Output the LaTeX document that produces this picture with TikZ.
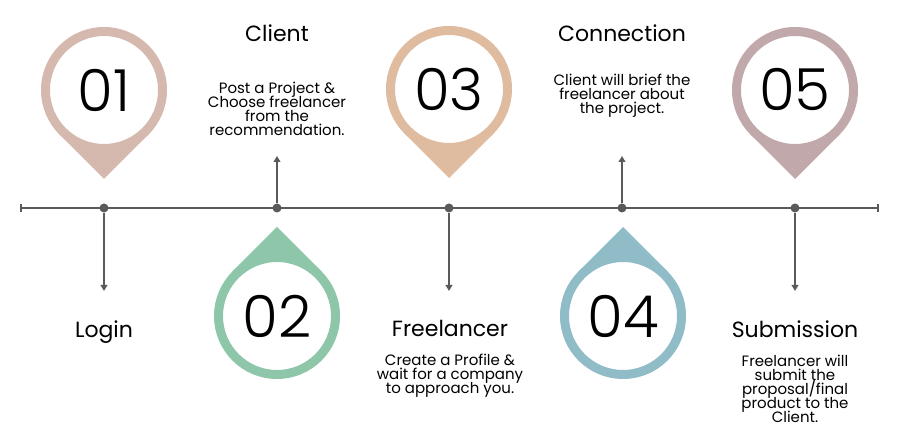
\documentclass[tikz,border=0pt]{standalone}
\usepackage{fontspec}
\setmainfont{Poppins}
\newfontfamily\numfont{Poppins Light}
\usetikzlibrary{arrows.meta,calc}
\definecolor{gline}{HTML}{5A5A5A}
\definecolor{c1}{HTML}{D5B9AF}
\definecolor{c2}{HTML}{8EC6A9}
\definecolor{c3}{HTML}{DFBBA0}
\definecolor{c4}{HTML}{8FBCC7}
\definecolor{c5}{HTML}{C1A8AA}
\newcommand{\tightlines}{\lineskiplimit=-20pt\relax\lineskip=0pt\relax}
\begin{document}
\begin{tikzpicture}[x=0.75pt,y=-0.75pt,
  ring/.style={circle, draw=#1, fill=white, line width=6.75pt, minimum size=87.75pt, inner sep=0pt, font=\numfont\fontsize{43.5}{43.5}\selectfont},
  dotnode/.style={circle, fill=gline, minimum size=6.75pt, inner sep=0pt},
  axisline/.style={draw=gline, line width=1.5pt},
  titletext/.style={anchor=base, inner sep=0pt, font=\fontsize{16.5}{19}\selectfont},
  desctext/.style={anchor=north, align=center, inner sep=0pt, font=\fontsize{11.25}{10.5}\selectfont\tightlines},
  arrowtip/.style={-{Triangle[width=5pt,length=4.5pt]}}
]
\useasboundingbox (0,0) rectangle (900,434);
% pin centres
\coordinate (p1) at (104,90);
\coordinate (p2) at (277,316);
\coordinate (p3) at (449,89);
\coordinate (p4) at (623,316);
\coordinate (p5) at (795,90);
% pin tips
\fill[c1] ($(p1)+(0,89)$) -- ($(p1)+(44.5,44.5)$) -- ($(p1)+(-44.5,44.5)$) -- cycle;
\fill[c2] ($(p2)+(0,-89)$) -- ($(p2)+(44.5,-44.5)$) -- ($(p2)+(-44.5,-44.5)$) -- cycle;
\fill[c3] ($(p3)+(0,89)$) -- ($(p3)+(44.5,44.5)$) -- ($(p3)+(-44.5,44.5)$) -- cycle;
\fill[c4] ($(p4)+(0,-89)$) -- ($(p4)+(44.5,-44.5)$) -- ($(p4)+(-44.5,-44.5)$) -- cycle;
\fill[c5] ($(p5)+(0,89)$) -- ($(p5)+(44.5,44.5)$) -- ($(p5)+(-44.5,44.5)$) -- cycle;
% rings
\node[ring=c1] (n1) at (p1) {01};
\node[ring=c2] (n2) at (p2) {02};
\node[ring=c3] (n3) at (p3) {03};
\node[ring=c4] (n4) at (p4) {04};
\node[ring=c5] (n5) at (p5) {05};
% axis
\coordinate (axL) at (20,208);
\coordinate (axR) at (879,208);
\draw[axisline, {Bar[width=6pt]}-{Bar[width=6pt]}] (axL) -- (axR);
\node[dotnode] (d1) at (104,208) {};
\node[dotnode] (d2) at (277,208) {};
\node[dotnode] (d3) at (449,208) {};
\node[dotnode] (d4) at (622,208) {};
\node[dotnode] (d5) at (795,208) {};
\coordinate (a1) at (104,291);
\coordinate (a2) at (277,156);
\coordinate (a3) at (449,291);
\coordinate (a4) at (622,156);
\coordinate (a5) at (795,291);
\draw[axisline, arrowtip] (d1) -- (a1);
\draw[axisline, arrowtip] (d2) -- (a2);
\draw[axisline, arrowtip] (d3) -- (a3);
\draw[axisline, arrowtip] (d4) -- (a4);
\draw[axisline, arrowtip] (d5) -- (a5);
% titles
\node[titletext] (t2) at (277,42) {Client};
\node[titletext] (t4) at (622,42) {Connection};
\node[titletext] (t1) at (104,338) {Login};
\node[titletext] (t3) at (450,337) {Freelancer};
\node[titletext] (t5) at (795,338) {Submission};
% descriptions
\node[desctext] (s2) at (277,82) {Post a Project \&\\Choose freelancer\\from the\\recommendation.};
\node[desctext] (s4) at (622,74) {Client will brief the\\freelancer about\\the project.};
\node[desctext] (s3) at (450,354) {Create a Profile \&\\wait for a company\\to approach you.};
\node[desctext] (s5) at (795,355) {Freelancer will\\submit the\\proposal/final\\product to the\\Client.};
\end{tikzpicture}
\end{document}
